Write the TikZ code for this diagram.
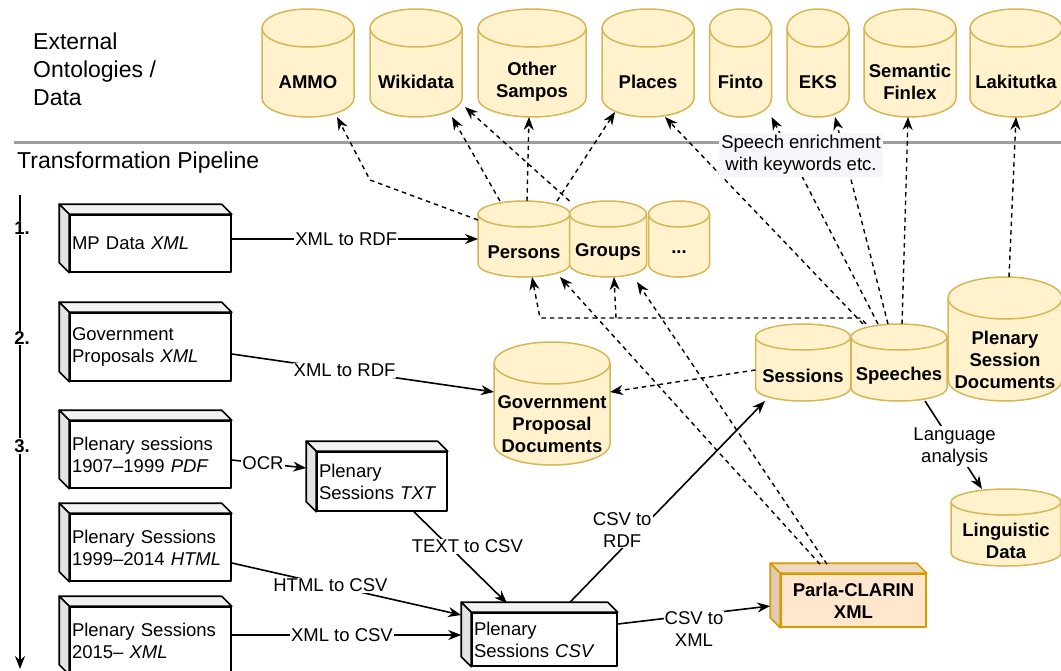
\documentclass[tikz,border=0pt]{standalone}
\usepackage{fontspec}
\setmainfont{Liberation Sans}
\usetikzlibrary{arrows.meta}

\definecolor{dbfill}{HTML}{FFF2CC}
\definecolor{dbline}{HTML}{D6B656}
\definecolor{parlafill}{HTML}{FFE6CC}
\definecolor{parlaline}{HTML}{D79B00}
\definecolor{sepgray}{HTML}{9E9E9E}
\definecolor{enrichbg}{HTML}{F4F6F9}

\newcommand{\diafont}{\fontsize{18.5}{22}\selectfont}
\newcommand{\hdfont}{\fontsize{23}{28}\selectfont}

% cylinder: name, centre x, top y, width, height, cap radius, label
\newcommand{\dbcyl}[7]{%
  \path[db] ({#2-#4/2},{#3+#6}) -- ({#2-#4/2},{#3+#5-#6})
      arc[start angle=180, end angle=0, x radius={#4/2}, y radius=#6]
      -- ({#2+#4/2},{#3+#6})
      arc[start angle=0, end angle=-180, x radius={#4/2}, y radius=#6] -- cycle;
  \draw[dbline, line width=1.5] ({#2-#4/2},{#3+#6})
      arc[start angle=180, end angle=0, x radius={#4/2}, y radius=#6];
  \node[dbbox, minimum width=#4, minimum height=#5] (#1) at (#2,{#3+#5/2}) {};
  \node[dbtext] (#1-t) at (#2,{#3+#6+#5/2}) {#7};
}

\begin{document}
\begin{tikzpicture}[x=1pt, y=-1pt, line join=round, font=\diafont]
  \tikzset{ db/.style={fill=dbfill, draw=dbline, line width=1.5},
    dbbox/.style={inner sep=0pt, outer sep=0pt},
    dbtext/.style={font=\diafont\bfseries, align=center, inner sep=0pt},
    srcbox/.style={draw, fill=white, line width=1.6, inner xsep=2pt, inner ysep=0pt,
      align=left, text width=157pt, minimum height=67pt},
    lbl/.style={fill=white, inner sep=1pt, align=center},
    flow/.style={line width=1.6, -{Stealth[length=13pt, width=10pt]}},
    link/.style={line width=1.4, dash pattern=on 4.5pt off 4pt, -{Stealth[length=13pt, width=10pt]}},
  }
  \useasboundingbox (0,0) rectangle (1061,670);

  \draw[sepgray, line width=3] (14,142) -- (1061,142);
  \node[anchor=west, align=left, inner sep=0pt, font=\hdfont] (extlbl) at (33,69) {External\\Ontologies /\\Data};
  \node[anchor=west, inner sep=0pt, font=\hdfont] (pipelbl) at (17,163) {Transformation Pipeline};

  % pipeline order
  \coordinate (pipetop) at (20,195);
  \coordinate (pipebot) at (20,669);
  \draw[flow] (pipetop) -- (pipebot);
  \node[lbl, font=\diafont\bfseries] (step1) at (22,228) {1.};
  \node[lbl, font=\diafont\bfseries] (step2) at (22,338) {2.};
  \node[lbl, font=\diafont\bfseries] (step3) at (22,446) {3.};

  % external data
  \dbcyl{ammo}{308}{9}{92}{108}{19}{AMMO}
  \dbcyl{wikidata}{416}{9}{92}{108}{19}{Wikidata}
  \dbcyl{sampos}{532}{9}{108}{108}{19}{Other\\Sampos}
  \dbcyl{places}{648}{9}{92}{108}{19}{Places}
  \dbcyl{finto}{740.5}{9}{62}{108}{19}{Finto}
  \dbcyl{eks}{818}{9}{62}{108}{19}{EKS}
  \dbcyl{finlex}{910}{9}{92}{108}{19}{Semantic\\Finlex}
  \dbcyl{lakitutka}{1016}{9}{92}{108}{19}{Lakitutka}

  % produced data
  \dbcyl{persons}{524}{201}{92}{76}{13}{Persons}
  \dbcyl{groups}{608}{201}{77}{76}{13}{Groups}
  \dbcyl{more}{679}{201}{61}{76}{13}{...}
  \dbcyl{gpd}{552}{342}{116}{123}{21}{Government\\Proposal\\Documents}
  \dbcyl{sessions}{803}{324}{95}{77}{13}{Sessions}
  \dbcyl{speeches}{899}{324}{96}{77}{13}{Speeches}
  \dbcyl{psd}{1005}{277}{114}{124}{21}{Plenary\\Session\\Documents}
  \dbcyl{ling}{1006}{489}{110}{77}{13}{Linguistic\\Data}

  % source files
  \node[srcbox, minimum height=57pt] (mpdata) at (150.5,243.5) {MP Data \textit{XML}};
  \node[srcbox, minimum height=68pt] (govprop) at (150.5,347) {Government\\Proposals \textit{XML}};
  \node[srcbox] (pdfsrc) at (150.5,454.5) {Plenary sessions\\1907–1999 \textit{PDF}};
  \node[srcbox] (htmlsrc) at (150.5,547.5) {Plenary Sessions\\1999–2014 \textit{HTML}};
  \node[srcbox] (xmlsrc) at (150.5,640.5) {Plenary Sessions\\2015– \textit{XML}};
  \node[srcbox, text width=126pt, minimum height=59pt] (txtsrc) at (382,481.5) {Plenary\\Sessions \textit{TXT}};
  \node[srcbox, text width=141pt, minimum height=53pt] (csvsrc) at (544.5,639.5) {Plenary\\Sessions \textit{CSV}};
  \node[srcbox, fill=parlafill, draw=parlaline, text width=141pt, minimum height=53pt,
    align=center, font=\diafont\bfseries] (parla) at (853.5,600.5) {Parla-CLARIN\\XML};

  \foreach \b in {mpdata,govprop,pdfsrc,htmlsrc,xmlsrc,txtsrc,csvsrc}{
    \draw[line width=1.6, fill=gray!10] (\b.north west) -- ++(-10,-10)
      -- ([xshift=-10,yshift=10]\b.north east) -- (\b.north east) -- cycle;
    \draw[line width=1.6, fill=gray!22] (\b.north west) -- ++(-10,-10)
      -- ([xshift=-10,yshift=10]\b.south west) -- (\b.south west) -- cycle;
  }
  \draw[parlaline, line width=1.6, fill=parlafill!94!black] (parla.north west) -- ++(-10,-10)
    -- ([xshift=-10,yshift=10]parla.north east) -- (parla.north east) -- cycle;
  \draw[parlaline, line width=1.6, fill=parlafill!88!black] (parla.north west) -- ++(-10,-10)
    -- ([xshift=-10,yshift=10]parla.south west) -- (parla.south west) -- cycle;

  % conversions
  \draw[flow] (mpdata.east |- persons.west) -- node[lbl, pos=.465] (lbl1) {XML to RDF} (persons.west);
  \draw[flow] ([yshift=-7]govprop.east) -- node[lbl, pos=.43] (lbl2) {XML to RDF} ([yshift=11.5]gpd.west);
  \draw[flow] ([yshift=-5.5]pdfsrc.east) -- node[lbl, pos=.42] (lbl3) {OCR} ([xshift=-10,yshift=13.5]txtsrc.west);
  \draw[flow] ([xshift=32]txtsrc.south) -- node[lbl, pos=.38, xshift=18] (lbl4) {TEXT to CSV} ([xshift=-37.5,yshift=9]csvsrc.north);
  \draw[flow] ([yshift=-15.5]htmlsrc.east) -- node[lbl, pos=.43] (lbl5) {HTML to CSV} ([xshift=-10,yshift=24.5]csvsrc.west);
  \draw[flow] ([yshift=5.5]xmlsrc.east) -- node[lbl, pos=.48] (lbl6) {XML to CSV} ([xshift=-10,yshift=4.5]csvsrc.west);
  \draw[flow] ([xshift=25.5,yshift=10]csvsrc.north) -- node[lbl, pos=.36, xshift=-18] (lbl7) {CSV to\\RDF} ([xshift=-38]sessions.south);
  \draw[flow] ([yshift=15.5]csvsrc.east) -- node[lbl, pos=.5, yshift=-14] (lbl8) {CSV to\\XML} ([xshift=-10,yshift=-5.5]parla.west);
  \draw[flow] ([xshift=26]speeches.south) -- node[lbl, pos=.52] (lbl9) {Language\\analysis} ([xshift=-24]ling.north);

  % links
  \coordinate (bendA) at (370,180);
  \coordinate (bendB) at (861,318);
  \coordinate (bendC) at (540,318);
  \coordinate (join) at (616,318);
  \draw[link] ([yshift=19]persons.west) -- (bendA) -- ([xshift=29]ammo.south);
  \draw[link] ([xshift=-24]persons.north) -- ([xshift=36]wikidata.south);
  \draw[link] ([xshift=3]persons.north) -- ([xshift=-3]sampos.south);
  \draw[link] ([xshift=33]persons.north) -- ([xshift=-33,yshift=5]places.south);
  \draw[link] (groups.north west) -- ([xshift=3,yshift=10]wikidata.south east);
  \draw[link] ([xshift=-36]speeches.north) -- ([xshift=17]places.south);
  \draw[link] ([xshift=-21]speeches.north) -- (finto.south east);
  \draw[link] ([xshift=-11]speeches.north) -- ([xshift=17]eks.south);
  \draw[link] ([xshift=3]speeches.north) -- ([xshift=-2]finlex.south);
  \draw[link] ([xshift=-33]speeches.north) -- (bendB) -- (bendC) -- ([xshift=8]persons.south);
  \draw[link] (join) -- ([xshift=6]groups.south);
  \draw[link] ([xshift=4]psd.north) -- (lakitutka.south);
  \draw[link] ([yshift=-7.5]sessions.west) -- ([yshift=11.5]gpd.east);
  \draw[link] ([xshift=-33.5,yshift=9]parla.north) -- ([xshift=36]persons.south);
  \draw[link] ([xshift=-26.5,yshift=9]parla.north) -- ([xshift=29,yshift=-5]groups.south);

  \node[fill=enrichbg, inner sep=2pt, align=center] (enrich) at (801,155) {Speech enrichment\\with keywords etc.};
\end{tikzpicture}
\end{document}
